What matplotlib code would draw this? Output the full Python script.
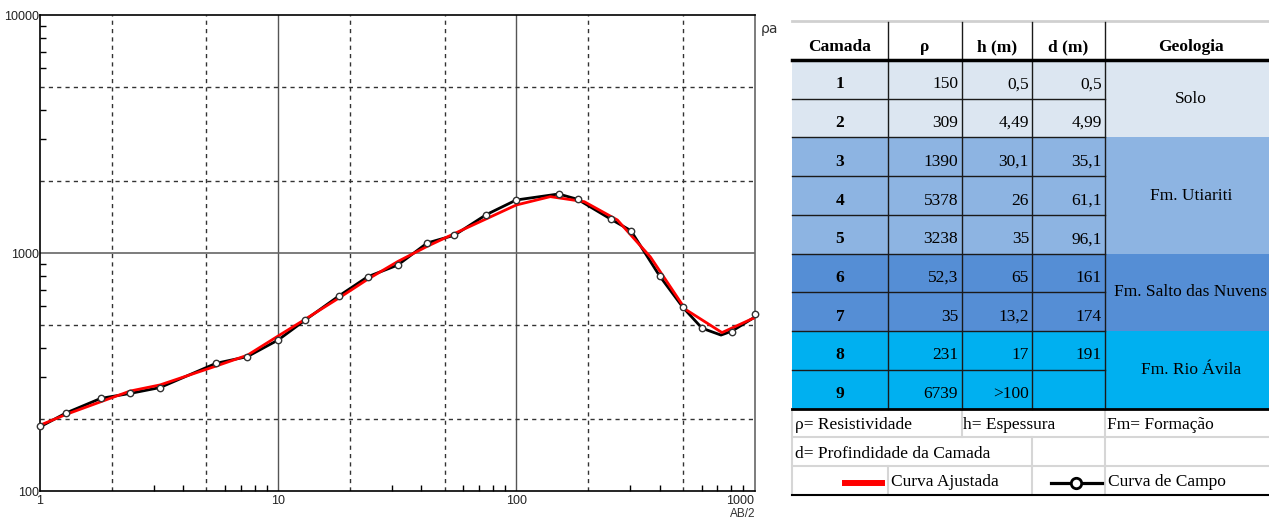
import matplotlib
matplotlib.use("Agg")
import matplotlib.pyplot as plt
from matplotlib.ticker import LogLocator, NullFormatter, FixedLocator
from matplotlib.patches import Rectangle
from matplotlib.lines import Line2D

# ---------------- data ----------------
field_ab2 = [1.0, 1.29, 1.80, 2.39, 3.19, 5.49, 7.43, 10.0, 13.0, 18.0, 23.8, 31.8,
             42.3, 54.9, 74.8, 100, 150.6, 181, 250, 303, 400, 501, 603, 806, 1010]
field_rho = [188, 213, 245, 257, 272, 344, 367, 431, 523, 660, 795, 890,
             1102, 1187, 1449, 1670, 1770, 1681, 1386, 1241, 801, 591, 483, 464, 553]

field_line_ab2 = [1.0, 1.29, 1.80, 2.39, 3.19, 5.49, 7.43, 10.0, 13.0, 18.0, 23.8, 31.8,
                  42.3, 54.9, 74.8, 100, 150.6, 181, 250, 303, 400, 501, 603, 724, 806, 1010]
field_line_rho = [186, 213, 245, 257, 272, 344, 367, 431, 523, 660, 795, 890,
                  1102, 1187, 1449, 1670, 1770, 1681, 1386, 1241, 801, 591, 483, 452, 470, 540]

fit_ab2 = [1.0, 1.29, 2.39, 3.19, 5.49, 7.43, 10.0, 13.0, 18.0, 23.8, 31.8, 42.3, 54.9,
           100, 139, 193, 266, 366, 513, 731, 1010]
fit_rho = [189, 210, 263, 279, 335, 372, 448, 527, 647, 776, 921, 1067, 1206,
           1591, 1725, 1643, 1376, 962, 580, 463, 537]

x_tick_labels = ["1", "10", "100", "1000"]
x_tick_values = [1, 10, 100, 1000]
y_tick_labels = ["100", "1000", "10000"]
y_tick_values = [100, 1000, 10000]

headers = ["Camada", "ρ", "h (m)", "d (m)", "Geologia"]
camada = ["1", "2", "3", "4", "5", "6", "7", "8", "9"]
rho = ["150", "309", "1390", "5378", "3238", "52,3", "35", "231", "6739"]
h_m = ["0,5", "4,49", "30,1", "26", "35", "65", "13,2", "17", ">100"]
d_m = ["0,5", "4,99", "35,1", "61,1", "96,1", "161", "174", "191", ""]
geologia = ["Solo", "Fm. Utiariti", "Fm. Salto das Nuvens", "Fm. Rio Ávila"]
geo_start = [0, 2, 5, 7]
geo_end = [2, 5, 7, 9]
geo_colors = ["#DCE6F1", "#8DB4E2", "#558ED5", "#00B0F0"]

notes_row1 = ["ρ= Resistividade", "h= Espessura", "Fm= Formação"]
notes_row2 = ["d= Profindidade da Camada"]
legend_labels = ["Curva Ajustada", "Curva de Campo"]

# ---------------- figure ----------------
W, H = 1269, 521
fig = plt.figure(figsize=(W / 100, H / 100), dpi=100)
fig.patch.set_facecolor("white")

def fx(px):
    return px / W

def fy(py):
    return 1 - py / H

ax = fig.add_axes([fx(40), fy(491), fx(755) - fx(40), fy(15) - fy(491)])
ax.set_xscale("log")
ax.set_yscale("log")
ax.set_xlim(1, 1006)
ax.set_ylim(100, 10000)

# grid
for xv in [10, 100]:
    ax.axvline(xv, color="#555555", lw=1.0, zorder=1)
for xv in [2, 5, 20, 50, 200, 500]:
    ax.axvline(xv, color="#333333", lw=1.0, ls=(0, (3, 3)), zorder=1)
ax.axhline(1000, color="#666666", lw=1.2, zorder=1)
for yv in [200, 500, 2000, 5000]:
    ax.axhline(yv, color="#333333", lw=1.0, ls=(0, (3, 3)), zorder=1)

for side in ["left", "bottom", "top"]:
    ax.spines[side].set_color("black")
    ax.spines[side].set_linewidth(1.2)
ax.spines["right"].set_color("#666666")
ax.spines["right"].set_linewidth(1.2)

ax.xaxis.set_major_locator(FixedLocator(x_tick_values))
ax.set_xticklabels(x_tick_labels)
ax.yaxis.set_major_locator(FixedLocator(y_tick_values))
ax.set_yticklabels(y_tick_labels)
ax.xaxis.set_minor_locator(LogLocator(base=10, subs=(3, 4, 6, 7, 8, 9)))
ax.yaxis.set_minor_locator(LogLocator(base=10, subs=(3, 4, 6, 7, 8, 9)))
ax.xaxis.set_minor_formatter(NullFormatter())
ax.yaxis.set_minor_formatter(NullFormatter())
ax.tick_params(axis="both", which="major", length=0, labelsize=9, colors="#222222")
ax.tick_params(axis="x", which="major", pad=3)
ax.tick_params(axis="y", which="major", pad=1)
ax.tick_params(axis="both", which="minor", direction="in", length=4, width=1, color="black")
for lab in ax.get_xticklabels():
    lab.set_fontfamily("Liberation Sans")
for lab in ax.get_yticklabels():
    lab.set_fontfamily("Liberation Sans")
ax.get_xticklabels()[-1].set_horizontalalignment("right")

# curves
ax.plot(field_line_ab2, field_line_rho, color="black", lw=2.0, zorder=3, solid_joinstyle="round")
ax.plot(fit_ab2, fit_rho, color="#FF0000", lw=2.0, zorder=4)
ax.plot(field_ab2, field_rho, ls="none", marker="o", ms=4.6, mfc="white", mec="#333333",
        mew=1.0, zorder=5, clip_on=False)

fig.text(fx(761), fy(29), "ρa", fontsize=10, family="DejaVu Sans", color="#333333",
         ha="left", va="center")
fig.text(fx(755), fy(514), "AB/2", fontsize=8.5, family="Liberation Sans", color="#333333",
         ha="right", va="center")

# ---------------- table ----------------
tx = fig.add_axes([0, 0, 1, 1])
tx.set_xlim(0, W)
tx.set_ylim(H, 0)
tx.axis("off")
tx.patch.set_visible(False)

col_edges = [792, 888, 962, 1032, 1105, 1275]
header_top, header_bot = 22, 60
n_rows = len(camada)
row_h = (408.5 - header_bot) / n_rows
row_edges = [header_bot + i * row_h for i in range(n_rows + 1)]
leg_edges = [row_edges[-1], 437, 466, 495]

FS = 12.5
serif = "Liberation Serif"

# fills
for g in range(len(geologia)):
    y0 = row_edges[geo_start[g]]
    y1 = row_edges[geo_end[g]]
    tx.add_patch(Rectangle((col_edges[0], y0), col_edges[-1] - col_edges[0], y1 - y0,
                           facecolor=geo_colors[g], edgecolor="none", zorder=1))

# top gray line
tx.plot([col_edges[0], col_edges[-1]], [21, 21], color="#D0D0D0", lw=2, zorder=2)

# header text
hdr_y = 47
for i, t in enumerate(headers):
    cx = (col_edges[i] + col_edges[i + 1]) / 2
    if i == 4:
        cx = 1191
    tx.text(cx, hdr_y, t, fontsize=FS, family=serif, fontweight="bold",
            ha="center", va="center", zorder=5)

# row lines (cols 0-3)
for i in range(1, n_rows):
    tx.plot([col_edges[0], col_edges[4]], [row_edges[i], row_edges[i]],
            color="#1a1a1a", lw=1.0, zorder=3)
# vertical lines
for c in col_edges[1:5]:
    tx.plot([c, c], [header_top, row_edges[-1]], color="#1a1a1a", lw=1.0, zorder=3)
# header bottom thick
tx.plot([col_edges[0], col_edges[-1]], [header_bot, header_bot], color="black", lw=2.5, zorder=4)
tx.plot([col_edges[0], col_edges[-1]], [row_edges[-1], row_edges[-1]], color="black", lw=2.0, zorder=4)

# row text
for i in range(n_rows):
    cy = (row_edges[i] + row_edges[i + 1]) / 2 + 5
    tx.text((col_edges[0] + col_edges[1]) / 2, cy, camada[i], fontsize=FS, family=serif,
            fontweight="bold", ha="center", va="center", zorder=5)
    tx.text(col_edges[2] - 4, cy, rho[i], fontsize=FS, family=serif, ha="right", va="center", zorder=5)
    tx.text(col_edges[3] - 3, cy, h_m[i], fontsize=FS, family=serif, ha="right", va="center", zorder=5)
    tx.text(col_edges[4] - 3, cy, d_m[i], fontsize=FS, family=serif, ha="right", va="center", zorder=5)

for g in range(len(geologia)):
    cy = (row_edges[geo_start[g]] + row_edges[geo_end[g]]) / 2
    tx.text(1191, cy, geologia[g], fontsize=FS, family=serif, ha="center", va="center", zorder=5)

# legend / notes area
gray = "#D6D6D6"
for yv in leg_edges[1:3]:
    tx.plot([col_edges[0], col_edges[-1]], [yv, yv], color=gray, lw=1.5, zorder=2)
tx.plot([col_edges[0], col_edges[-1]], [leg_edges[3], leg_edges[3]], color="black", lw=1.5, zorder=4)
tx.plot([col_edges[0], col_edges[0]], [leg_edges[0], leg_edges[3]], color=gray, lw=1.5, zorder=2)
for c in [962, 1105]:
    tx.plot([c, c], [leg_edges[0], leg_edges[1]], color=gray, lw=1.5, zorder=2)
for c in [1032, 1105]:
    tx.plot([c, c], [leg_edges[1], leg_edges[2]], color=gray, lw=1.5, zorder=2)
for c in [888, 1032, 1105]:
    tx.plot([c, c], [leg_edges[2], leg_edges[3]], color=gray, lw=1.5, zorder=2)

r1y = (leg_edges[0] + leg_edges[1]) / 2 + 2
for x0, t in zip([795, 963, 1107], notes_row1):
    tx.text(x0, r1y, t, fontsize=FS, family=serif, ha="left", va="center", zorder=5)
r2y = (leg_edges[1] + leg_edges[2]) / 2 + 2
tx.text(795, r2y, notes_row2[0], fontsize=FS, family=serif, ha="left", va="center", zorder=5)
r3y = (leg_edges[2] + leg_edges[3]) / 2 + 2
tx.add_line(Line2D([845, 882], [r3y, r3y], color="#FF0000", lw=4.3, zorder=5))
tx.text(891, r3y, legend_labels[0], fontsize=FS, family=serif, ha="left", va="center", zorder=5)
tx.add_line(Line2D([1051, 1102], [r3y, r3y], color="black", lw=2.3, zorder=5))
tx.add_line(Line2D([1076], [r3y], ls="none", marker="o", ms=7.5, mfc="white", mec="black",
                   mew=2, zorder=6))
tx.text(1108, r3y, legend_labels[1], fontsize=FS, family=serif, ha="left", va="center", zorder=5)

fig.savefig("out.png", dpi=100, facecolor="white")
